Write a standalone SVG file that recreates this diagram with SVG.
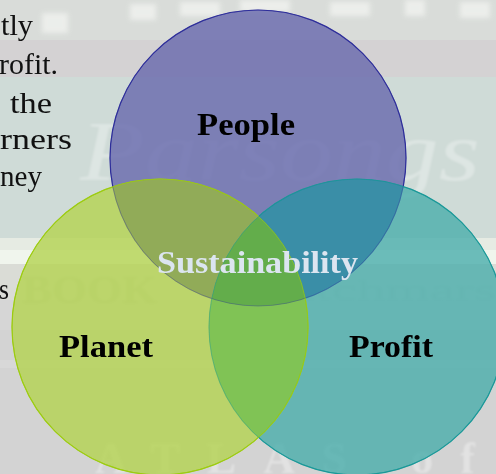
<svg xmlns="http://www.w3.org/2000/svg" width="496" height="474" viewBox="0 0 496 474">
  <defs>
    <style>
      .body { font-family: "Liberation Serif", "DejaVu Serif", serif; font-size: 30px; fill: #111; }
      .label { font-family: "Liberation Serif", "DejaVu Serif", serif; font-size: 32px; font-weight: bold; fill: #000; text-anchor: start; }
      .ghost { font-family: "Liberation Serif", "DejaVu Serif", serif; }
      .circle { stroke-width: 1.2; }
    </style>
    <filter id="blur" x="-30%" y="-30%" width="160%" height="160%">
      <feGaussianBlur stdDeviation="2.5"/>
    </filter>
    <filter id="soft" x="-10%" y="-10%" width="120%" height="120%">
      <feGaussianBlur stdDeviation="0.8"/>
    </filter>
    <clipPath id="clipPeople"><circle cx="258" cy="158" r="148"/></clipPath>
    <clipPath id="clipPlanet"><circle cx="160" cy="327" r="148"/></clipPath>
    <clipPath id="clipProfit"><circle cx="357" cy="327" r="148"/></clipPath>
  </defs>

  <!-- background scene -->
  <g id="background">
    <rect x="0" y="0" width="496" height="474" fill="#d3d3d3"/>
    <rect x="0" y="0" width="496" height="40" fill="#d9dcd9"/>
    <rect x="0" y="40" width="496" height="37" fill="#d4d2d3"/>
    <rect x="0" y="77" width="496" height="161" fill="#cfdbd7"/>
    <rect x="0" y="238" width="496" height="12" fill="#e6ebe3"/>
    <rect x="0" y="250" width="496" height="14" fill="#f0f5ed"/>
    <rect x="0" y="264" width="496" height="36" fill="#dadcd6"/>
    <rect x="0" y="300" width="496" height="30" fill="#d6d6d6"/>
    <rect x="0" y="360" width="496" height="8" fill="#d8d8d8"/>
    <g fill="#f4f6f3" filter="url(#blur)" opacity="0.7">
      <rect x="42" y="13" width="26" height="20"/>
      <rect x="130" y="4" width="26" height="16"/>
      <rect x="180" y="2" width="40" height="14"/>
      <rect x="240" y="0" width="50" height="12"/>
      <rect x="330" y="2" width="40" height="14"/>
      <rect x="405" y="0" width="20" height="16"/>
      <rect x="460" y="2" width="30" height="16"/>
    </g>
    <g filter="url(#soft)">
      <text class="ghost" x="80" y="180" font-size="84" font-style="italic" fill="#ffffff" opacity="0.3" textLength="400" lengthAdjust="spacingAndGlyphs">Parsongs</text>
      <text class="ghost" x="22" y="303" font-size="40" font-weight="bold" fill="#6a6a5a" opacity="0.12" textLength="135" lengthAdjust="spacingAndGlyphs">BOOK</text>
      <text class="ghost" x="300" y="300" font-size="30" fill="#6a6a6a" opacity="0.08" textLength="196" lengthAdjust="spacingAndGlyphs">itchmars</text>
      <text class="ghost" x="95" y="473" font-size="44" font-weight="bold" fill="#ffffff" opacity="0.35" textLength="380" lengthAdjust="spacing">ATLAS of</text>
    </g>
    <text class="body" x="1" y="35" textLength="32" lengthAdjust="spacingAndGlyphs">tly</text>
    <text class="body" x="-1" y="74" textLength="59" lengthAdjust="spacingAndGlyphs">rofit.</text>
    <text class="body" x="10" y="113" textLength="42" lengthAdjust="spacingAndGlyphs">the</text>
    <text class="body" x="0" y="149" textLength="72" lengthAdjust="spacingAndGlyphs">rners</text>
    <text class="body" x="0" y="186" textLength="42" lengthAdjust="spacingAndGlyphs">ney</text>
    <text class="body" x="-1" y="299" textLength="10" lengthAdjust="spacingAndGlyphs">s</text>
  </g>

  <g id="people">
    <circle class="circle" cx="258" cy="158" r="148" fill="#6768ad" fill-opacity="0.8" stroke="#2e2e9a"/>
  </g>
  <g id="profit">
    <circle class="circle" cx="357" cy="327" r="148" fill="#4aaeab" fill-opacity="0.8" stroke="#1a9898"/>
  </g>
  <g id="planet">
    <circle class="circle" cx="160" cy="327" r="148" fill="#b4d350" fill-opacity="0.8" stroke="#9ccc10"/>
  </g>

  <!-- overlap tints -->
  <g id="overlaps">
    <g clip-path="url(#clipPeople)">
      <circle cx="160" cy="327" r="148" fill="#8aa454" fill-opacity="0.75"/>
      <circle cx="357" cy="327" r="148" fill="#2f84a4" fill-opacity="0.7"/>
    </g>
    <g clip-path="url(#clipPlanet)">
      <circle cx="357" cy="327" r="148" fill="#74bf50" fill-opacity="0.75"/>
    </g>
    <g clip-path="url(#clipPeople)">
      <g clip-path="url(#clipPlanet)">
        <circle cx="357" cy="327" r="148" fill="#62ac48" fill-opacity="0.85"/>
      </g>
    </g>
    <g fill="none" stroke-width="1">
      <circle cx="258" cy="158" r="148" stroke="#2e2e9a" stroke-opacity="0.35"/>
      <circle cx="160" cy="327" r="148" stroke="#9ccc10" stroke-opacity="0.6"/>
      <circle cx="357" cy="327" r="148" stroke="#1a9898" stroke-opacity="0.4"/>
    </g>
  </g>

  <g id="labels">
    <text class="label" x="197" y="135" textLength="98" lengthAdjust="spacingAndGlyphs">People</text>
    <text class="label" x="59" y="357" textLength="94" lengthAdjust="spacingAndGlyphs">Planet</text>
    <text class="label" x="349" y="357" textLength="84" lengthAdjust="spacingAndGlyphs">Profit</text>
    <text class="label" x="157" y="273" fill="#dce5f0" style="fill:#dce5f0" textLength="201" lengthAdjust="spacingAndGlyphs">Sustainability</text>
  </g>
</svg>
